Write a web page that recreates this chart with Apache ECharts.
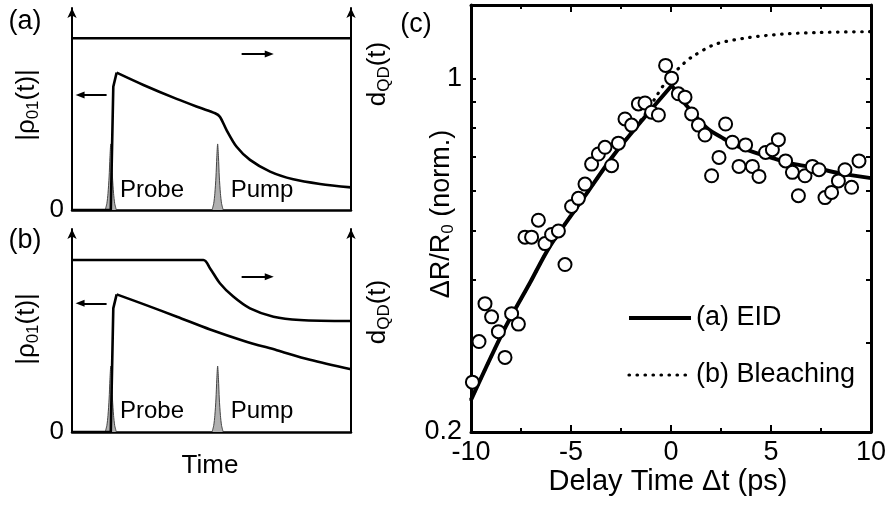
<!DOCTYPE html>
<html><head><meta charset="utf-8">
<script src="https://cdn.jsdelivr.net/npm/echarts@6/dist/echarts.min.js"></script>
<style>html,body{margin:0;padding:0;background:#fff}#c{width:890px;height:507px}</style>
</head><body><div id="c"></div>
<script>
// ---------- Panels (a) and (b): schematic, time in arbitrary units 0..100, amplitude 0..100 ----------
const rhoA_rise  = [[0,0],[13.9,0],[14.8,61.0],[16.0,68.0]];
const rhoA_decay = [[16.0,68.0],[25.6,61.9],[37.5,55.0],[45.9,50.6],[51.3,47.9],[53.0,46.2],[55.4,39.6],[59.0,31.3],[63.8,24.8],[71.0,19.0],[79.3,15.2],[88.9,12.9],[100,11.2]];
const dqdA = [[0,85.0],[100,85.0]];

const rhoB_rise  = [[0,0],[13.9,0],[14.8,60.9],[16.0,67.8]];
const rhoB_decay = [[16.0,67.8],[25.6,63.0],[37.6,56.8],[49.5,50.5],[61.4,45.0],[73.4,40.3],[85.3,35.6],[100,30.9]];
const dqdB = [[0,84.7],[47.1,84.7],[49.5,80.6],[53.0,73.3],[57.8,66.7],[63.8,60.9],[72.2,56.8],[81.7,55.2],[100,54.7]];

// pulse outline (offset in time, fraction of pulse height)
const pulseDt    = [-2.0,-1.4,-1.0,-0.6,-0.3,0,0.3,0.6,1.0,1.4,2.0];
const pulseShape = [0,0.1,0.25,0.5,0.8,1,0.8,0.5,0.25,0.1,0];
const probeT = 13.9, pumpT = 52.2;
const pulseHeightA = 32.7, pulseHeightB = 32.5;

// annotation arrows [x start, x end, level]
const arrowsA = {left:[12.4,2.9,56.9], right:[60.8,70.7,77.2]};
const arrowsB = {left:[12.4,2.9,63.4], right:[60.8,70.7,76.5]};

// ---------- Panel (c): data ----------
const delayX = [-9.93,-9.6,-9.3,-8.97,-8.63,-8.3,-7.97,-7.63,-7.3,-6.97,-6.63,-6.3,-5.97,-5.63,-5.3,-4.97,-4.63,-4.3,-3.97,-3.63,-3.3,-2.97,-2.63,-2.3,-1.97,-1.63,-1.3,-0.97,-0.63,-0.27,0.03,0.37,0.7,1.03,1.37,1.7,2.03,2.4,2.73,3.07,3.4,3.73,4.07,4.4,4.73,5.07,5.37,5.73,6.07,6.37,6.7,7.07,7.4,7.7,8.03,8.37,8.7,9.03,9.4];
const signal = [0.251,0.302,0.359,0.338,0.316,0.281,0.343,0.327,0.486,0.486,0.525,0.472,0.492,0.500,0.429,0.559,0.580,0.619,0.678,0.710,0.732,0.673,0.746,0.833,0.810,0.892,0.896,0.859,0.848,1.063,1.003,0.934,0.920,0.852,0.810,0.774,0.643,0.699,0.814,0.749,0.671,0.740,0.671,0.641,0.715,0.724,0.758,0.688,0.653,0.587,0.643,0.671,0.661,0.582,0.596,0.628,0.661,0.610,0.688];

const eidRiseX  = [-10,-8.34,-7.05,-6.05,-4.3,-2.89,-1.39,0.04];
const eidRiseY  = [0.2315,0.3189,0.3947,0.4667,0.5865,0.7043,0.8329,0.9698];
const eidDecayX = [0.04,0.78,1.78,2.62,3.45,4.28,5.12,5.95,6.78,7.62,8.45,10];
const eidDecayY = [0.9698,0.885,0.80,0.762,0.732,0.713,0.696,0.681,0.671,0.661,0.650,0.636];
const bleachX = [-10,-8.34,-7.05,-6.05,-4.3,-2.89,-1.39,-0.67,-0.38,0,0.28,0.62,1.03,2.2,3.89,5.58,7.27,10];
const bleachY = [0.2315,0.3189,0.3947,0.4667,0.5865,0.7043,0.84,0.932,0.97,1.005,1.039,1.071,1.104,1.17,1.207,1.226,1.235,1.24];

const xTickLabels = [-10,-5,0,5,10];
const yTickValues = [0.2,0.3,0.4,0.5,0.6,0.7,0.8,0.9,1];
const yTickLabels = [0.2,1];

// ---------- helpers ----------
const FONT = "'Liberation Sans', Arial, sans-serif";
const zip = (xs, ys) => xs.map((x,i)=>[x, ys[i]]);
const pulse = (c, h) => pulseDt.map((d,i)=>[c+d, h*pulseShape[i]]);
const DOTTED = {color:'#000', width:3.2, type:[0.5,7.5], cap:'round'};
const SOLID = {color:'#000', width:4};

function schematicAxes(gi) {
  const line = {show:true, lineStyle:{color:'#000', width:2}};
  return {
    x: {type:'value', gridIndex:gi, min:0, max:100, axisLine:{show:true, onZero:false, lineStyle:{color:'#000', width:2.5}},
        axisTick:{show:false}, axisLabel:{show:false}, splitLine:{show:false}},
    yl: {type:'value', gridIndex:gi, min:0, max:100, position:'left',
        axisLine:Object.assign({}, line, {symbol:['none','arrow'], symbolSize:[7,10]}),
        axisTick:{show:false}, splitLine:{show:false},
        axisLabel:{customValues:[0], fontSize:26, fontFamily:FONT, color:'#000', margin:8}},
    yr: {type:'value', gridIndex:gi, min:0, max:100, position:'right',
        axisLine:Object.assign({}, line, {symbol:['none','arrow'], symbolSize:[7,10]}),
        axisTick:{show:false}, splitLine:{show:false}, axisLabel:{show:false}}
  };
}
const sa = schematicAxes(0), sb = schematicAxes(1);

function arrowML(a) {
  return {silent:true, symbol:['none','triangle'], symbolSize:[7,9], label:{show:false},
    lineStyle:{color:'#000', width:2, type:'solid'}, animation:false,
    data:[[{coord:[a[0],a[2]]},{coord:[a[1],a[2]]}]]};
}
function pulseSeries(xi, yi, data) {
  return {type:'line', xAxisIndex:xi, yAxisIndex:yi, data, symbol:'none', smooth:0.25,
    lineStyle:{color:'#444', width:1}, areaStyle:{color:'#b0b0b0', opacity:1}, z:1};
}
function curve(xi, yi, data, smooth, extra) {
  return Object.assign({type:'line', xAxisIndex:xi, yAxisIndex:yi, data, symbol:'none', smooth:smooth,
    lineStyle:{color:'#000', width:2.6}, z:3}, extra||{});
}

const cXcommon = {type:'value', gridIndex:2, min:-10, max:10, interval:5,
  axisLine:{show:true, onZero:false, lineStyle:{color:'#000', width:3}},
  axisTick:{show:true, inside:true, length:7, lineStyle:{color:'#000', width:2}},
  minorTick:{show:true, splitNumber:2, length:4, lineStyle:{color:'#000', width:2}},
  splitLine:{show:false}, minorSplitLine:{show:false}};
const cYcommon = {type:'log', logBase:10, gridIndex:2, min:0.2, max:1.4,
  axisLine:{show:true, onZero:false, lineStyle:{color:'#000', width:3}},
  axisTick:{show:true, inside:true, length:5, customValues:yTickValues, lineStyle:{color:'#000', width:2}},
  splitLine:{show:false}};

const option = {
  animation:false,
  backgroundColor:'#fff',
  grid:[
    {left:72, top:8, width:279, height:202},
    {left:72, top:229, width:279, height:203},
    {left:471, top:5, width:400, height:427}
  ],
  xAxis:[
    sa.x, sb.x,
    Object.assign({}, cXcommon, {position:'bottom',
      axisLabel:{customValues:xTickLabels, fontSize:27, fontFamily:FONT, color:'#000', margin:7}}),
    Object.assign({}, cXcommon, {position:'top', axisLabel:{show:false}})
  ],
  yAxis:[
    sa.yl, sa.yr, sb.yl, sb.yr,
    Object.assign({}, cYcommon, {position:'left',
      axisLabel:{customValues:yTickLabels, fontSize:27, fontFamily:FONT, color:'#000', margin:9,
        formatter:v=>String(+(+v).toFixed(2))}}),
    Object.assign({}, cYcommon, {position:'right', axisLabel:{show:false}})
  ],
  legend:{
    orient:'vertical', left:627, top:303, padding:0, itemGap:27, itemWidth:62, itemHeight:14,
    data:[{name:'(a) EID', lineStyle:SOLID}, {name:'(b) Bleaching', lineStyle:DOTTED}],
    itemStyle:{opacity:0},
    textStyle:{fontSize:27, fontFamily:FONT, color:'#000', lineHeight:30}
  },
  series:[
    // panel (a)
    pulseSeries(0,0,pulse(probeT,pulseHeightA)),
    pulseSeries(0,0,pulse(pumpT,pulseHeightA)),
    curve(0,0,rhoA_rise,false),
    curve(0,0,rhoA_decay,0.3,{markLine:arrowML(arrowsA.left)}),
    curve(0,1,dqdA,false,{markLine:arrowML(arrowsA.right)}),
    // panel (b)
    pulseSeries(1,2,pulse(probeT,pulseHeightB)),
    pulseSeries(1,2,pulse(pumpT,pulseHeightB)),
    curve(1,2,rhoB_rise,false),
    curve(1,2,rhoB_decay,0.3,{markLine:arrowML(arrowsB.left)}),
    curve(1,3,dqdB,0.3,{markLine:arrowML(arrowsB.right)}),
    // panel (c)
    {name:'(b) Bleaching', type:'line', xAxisIndex:2, yAxisIndex:4, data:zip(bleachX,bleachY), symbol:'none',
      smooth:0.3, lineStyle:DOTTED, z:2},
    {name:'(a) EID', type:'line', xAxisIndex:2, yAxisIndex:4, data:zip(eidRiseX,eidRiseY), symbol:'none',
      smooth:0.3, lineStyle:SOLID, z:3},
    {name:'(a) EID', type:'line', xAxisIndex:2, yAxisIndex:4, data:zip(eidDecayX,eidDecayY), symbol:'none',
      smooth:0.3, lineStyle:SOLID, z:3},
    {name:'data', type:'scatter', xAxisIndex:2, yAxisIndex:4, data:zip(delayX,signal), symbol:'circle',
      symbolSize:13, itemStyle:{color:'#fff', borderColor:'#000', borderWidth:2, opacity:1}, z:5, clip:false}
  ],
  graphic:[]
};

const txt = (text, x, y, size, rot, rich) => ({type:'text', x, y, rotation:rot||0, silent:true,
  style:{text, fontSize:size, fontFamily:FONT, fill:'#000', align:'center', verticalAlign:'middle', rich:rich||undefined}});
const sub = (ls) => ({sub:{fontSize:17, fontFamily:FONT, fill:'#000', verticalAlign:'bottom', lineHeight:17},
                      n:{fontSize:ls, fontFamily:FONT, fill:'#000', lineHeight:30}});
option.graphic = [
  txt('(a)', 25, 22, 27),
  txt('(b)', 25, 241, 27),
  txt('(c)', 416, 25, 27),
  txt('{n||ρ}{sub|01}{n|(t)|}', 27, 105, 26, Math.PI/2, sub(26)),
  txt('{n||ρ}{sub|01}{n|(t)|}', 27, 329, 26, Math.PI/2, sub(26)),
  txt('{n|d}{sub|QD}{n|(t)}', 378, 74, 26, Math.PI/2, sub(26)),
  txt('{n|d}{sub|QD}{n|(t)}', 378, 312, 26, Math.PI/2, sub(26)),
  txt('{n|ΔR/R}{sub|0}{n| (norm.)}', 442, 214, 27, Math.PI/2, sub(27)),
  txt('Delay Time Δt (ps)', 668, 482, 29),
  txt('Time', 210, 466, 26),
  txt('Probe', 152, 190, 24),
  txt('Pump', 262, 190, 24),
  txt('Probe', 152, 411, 24),
  txt('Pump', 262, 411, 24)
];

const chart = echarts.init(document.getElementById('c'), null, {renderer:'canvas'});
chart.setOption(option);
</script>
</body></html>
